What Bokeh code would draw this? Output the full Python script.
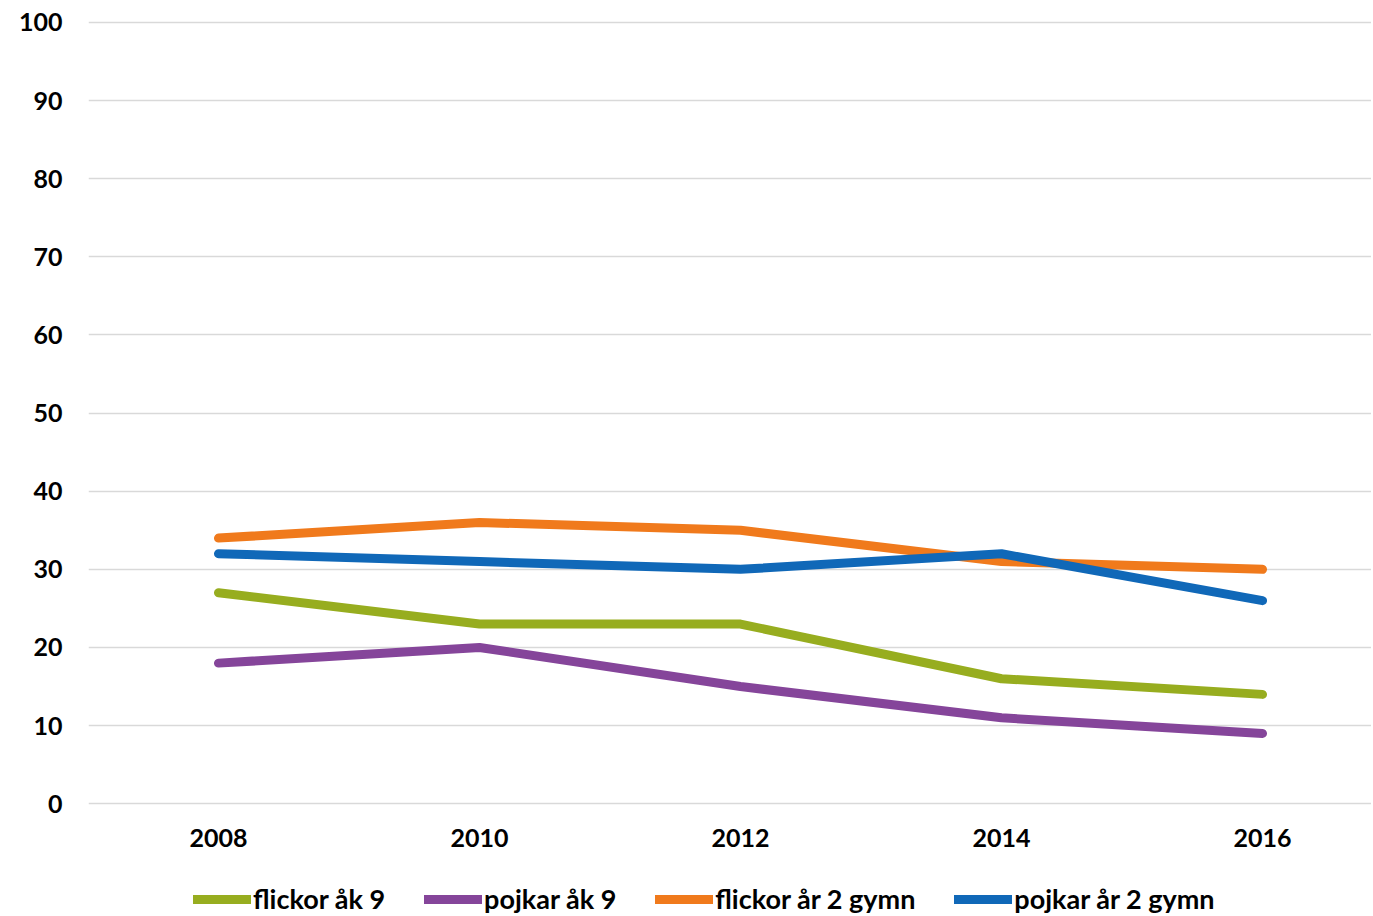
from bokeh.plotting import figure
from bokeh.models import Legend, LegendItem, FixedTicker, Range1d
from bokeh.embed import file_html
from bokeh.resources import INLINE

years = [2008, 2010, 2012, 2014, 2016]
flickor_ak9 = [27, 23, 23, 16, 14]
pojkar_ak9 = [18, 20, 15, 11, 9]
flickor_gymn = [34, 36, 35, 31, 30]
pojkar_gymn = [32, 31, 30, 32, 26]

series_names = ["flickor åk 9", "pojkar åk 9", "flickor år 2 gymn", "pojkar år 2 gymn"]
series_values = [flickor_ak9, pojkar_ak9, flickor_gymn, pojkar_gymn]
colors = ["#97ad1f", "#85459a", "#f07a1c", "#1068b8"]
y_ticks = list(range(0, 101, 10))

FONT = "Lato"

# frame spans the full height; the space under 0 holds the year labels and the legend
p = figure(frame_width=1283, frame_height=896, output_backend="svg", toolbar_location=None,
           x_range=Range1d(2007.004, 2016.835), y_range=Range1d(-14.43, 100.25),
           min_border_left=88, min_border_right=0, min_border_top=20, min_border_bottom=0)
p.outline_line_color = None
p.background_fill_color = "white"

p.xgrid.grid_line_color = None
p.ygrid.grid_line_color = "#d9d9d9"
p.ygrid.grid_line_width = 1.5

p.yaxis.ticker = FixedTicker(ticks=y_ticks)
p.xaxis.ticker = FixedTicker(ticks=years)
p.xaxis.fixed_location = 0
for ax in (p.xaxis[0], p.yaxis[0]):
    ax.axis_line_color = None
    ax.major_tick_line_color = None
    ax.minor_tick_line_color = None
    ax.major_tick_out = 0
    ax.minor_tick_out = 0
    ax.major_tick_in = 0
    ax.minor_tick_in = 0
    ax.axis_label_standoff = 0
    ax.major_label_text_font = FONT
    ax.major_label_text_font_style = "bold"
    ax.major_label_text_font_size = "25px"
    ax.major_label_text_color = "black"
p.yaxis.major_label_standoff = 26
p.xaxis.major_label_standoff = 25

items = []
for name, vals, col in zip(series_names, series_values, colors):
    r = p.line(years, vals, line_color=col, line_width=9, line_cap="round", line_join="round")
    items.append(LegendItem(label=name, renderers=[r]))

legend = Legend(items=items, orientation="horizontal", location=(105, 1),
                label_text_font=FONT, label_text_font_style="bold",
                label_text_font_size="27px", label_text_color="black",
                glyph_width=58, glyph_height=20, label_standoff=2, spacing=39,
                border_line_color=None, background_fill_alpha=0,
                margin=0, padding=0)
p.add_layout(legend, "center")

open("out.html", "w").write(file_html(p, INLINE))
